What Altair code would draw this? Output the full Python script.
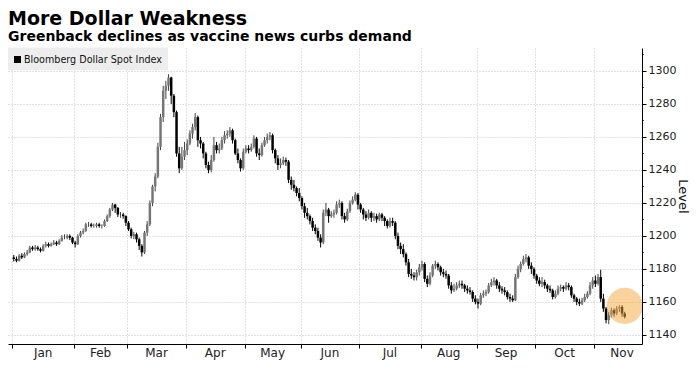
import altair as alt
import pandas as pd
import numpy as np

# ---------------- data ----------------
title = "More Dollar Weakness"
subtitle = "Greenback declines as vaccine news curbs demand"
series_name = "Bloomberg Dollar Spot Index"
month_names = ["Jan", "Feb", "Mar", "Apr", "May", "Jun", "Jul", "Aug", "Sep", "Oct", "Nov"]
y_label_values = [1140, 1160, 1180, 1200, 1220, 1240, 1260, 1280, 1300]
y_minor_values = [1150, 1170, 1190, 1210, 1230, 1250, 1270, 1290, 1310]

first_open = 1187
close = [
    1186, 1185, 1188, 1187, 1189, 1190, 1193, 1192, 1193, 1192,
    1191, 1194, 1195, 1194, 1195, 1196, 1195, 1197, 1199, 1199,
    1200, 1199, 1196, 1195, 1200, 1202, 1203, 1207, 1207, 1206,
    1206, 1207, 1206, 1206, 1209, 1212, 1216, 1219, 1217, 1213,
    1213, 1212, 1208, 1204, 1200, 1201, 1198, 1194, 1190, 1202,
    1207, 1220, 1230, 1236, 1254, 1272, 1288, 1291, 1296, 1285,
    1275, 1250, 1241, 1248, 1252, 1256, 1262, 1266, 1272, 1258,
    1256, 1250, 1243, 1240, 1246, 1255, 1252, 1253, 1258, 1261,
    1262, 1264, 1258, 1250, 1246, 1241, 1251, 1253, 1252, 1254,
    1259, 1250, 1249, 1255, 1258, 1260, 1261, 1252, 1247, 1243,
    1244, 1246, 1245, 1234, 1231, 1229, 1226, 1223, 1218, 1214,
    1212, 1209, 1205, 1203, 1199, 1196, 1214, 1216, 1212, 1213,
    1214, 1219, 1220, 1212, 1210, 1215, 1220, 1222, 1225, 1219,
    1216, 1213, 1211, 1214, 1211, 1212, 1210, 1213, 1211, 1209,
    1206, 1209, 1208, 1200, 1194, 1192, 1189, 1184, 1177, 1176,
    1175, 1178, 1181, 1183, 1174, 1171, 1176, 1182, 1183, 1181,
    1178, 1177, 1176, 1170, 1167, 1168, 1170, 1171, 1170, 1168,
    1167, 1166, 1162, 1160, 1159, 1164, 1165, 1166, 1170, 1172,
    1173, 1170, 1168, 1167, 1166, 1163, 1162, 1161, 1175, 1180,
    1183, 1186, 1187, 1182, 1180, 1176, 1173, 1171, 1172, 1170,
    1168, 1167, 1163, 1165, 1168, 1169, 1168, 1170, 1169, 1164,
    1162, 1160, 1159, 1161, 1163, 1165, 1170, 1173, 1171, 1175,
    1162, 1156, 1149, 1152, 1155, 1153, 1156, 1157, 1153, 1151,
]
high = [
    1188.5, 1187.5, 1189, 1189.5, 1190, 1191.5, 1194, 1194, 1194.5, 1194,
    1193, 1195, 1196.5, 1196, 1196, 1197.5, 1197, 1198, 1200.5, 1201,
    1201, 1201, 1199.5, 1197, 1201, 1203, 1204.5, 1208, 1208.5, 1208,
    1207.5, 1208, 1208, 1207, 1210, 1213, 1217, 1220, 1219.5, 1217.5,
    1214.5, 1214, 1212.5, 1209, 1205, 1202.5, 1202, 1199, 1195, 1203,
    1209, 1221.5, 1231, 1238, 1256.5, 1274, 1291, 1294, 1298, 1296.5,
    1286, 1276, 1254, 1254, 1257, 1258.5, 1264, 1268, 1274.5, 1273,
    1260, 1257, 1251, 1245, 1249, 1260, 1257, 1256, 1260, 1263.5,
    1264, 1266, 1265, 1259, 1253, 1247, 1253, 1255, 1255, 1256,
    1261, 1260, 1253, 1256.5, 1260, 1262, 1263, 1262, 1253, 1249,
    1247, 1248, 1247.5, 1246, 1236, 1234, 1230, 1229, 1224, 1220,
    1217, 1213, 1211, 1207, 1205, 1201, 1216, 1220, 1217, 1215,
    1216, 1221, 1222, 1221, 1214, 1216.5, 1221.5, 1224, 1226.5, 1226,
    1220, 1217, 1215, 1216, 1215, 1214, 1213.5, 1214, 1214, 1212,
    1210, 1211, 1211, 1209, 1202, 1196, 1195, 1190, 1186, 1180,
    1178, 1179.5, 1183, 1185, 1184, 1176, 1178, 1183, 1185, 1184,
    1182, 1180, 1179, 1177, 1172, 1171, 1172, 1173, 1173, 1171,
    1170, 1169, 1167, 1164, 1162, 1165.5, 1167, 1167.5, 1171.5, 1174,
    1175, 1174, 1172, 1169.5, 1169, 1167, 1165, 1164, 1177, 1182,
    1184.5, 1188, 1189, 1188, 1184, 1181, 1177, 1175, 1175, 1173.5,
    1171, 1170, 1168, 1167, 1170, 1170.5, 1170, 1172, 1171.5, 1170,
    1165, 1163, 1162, 1162.5, 1165, 1166.5, 1172, 1175, 1176, 1177,
    1179.5, 1165, 1157, 1154, 1156.5, 1156, 1157.5, 1158, 1158, 1154,
]
low = [
    1184.5, 1184, 1184.5, 1186, 1186.5, 1188, 1189.5, 1191, 1191, 1191,
    1190, 1190.5, 1193, 1193, 1193.5, 1194.5, 1194, 1194.5, 1196.5, 1198,
    1198, 1197.5, 1195, 1193, 1194.5, 1199, 1201, 1202.5, 1205.5, 1205,
    1205, 1205, 1205, 1204.5, 1205.5, 1208.5, 1211, 1215, 1214, 1211.5,
    1211, 1210.5, 1206, 1203, 1198.5, 1198, 1196, 1191.5, 1187.5, 1189,
    1200, 1206, 1218, 1227, 1235, 1252, 1269, 1283, 1288, 1280,
    1272, 1248, 1238, 1240, 1246, 1249, 1255, 1259, 1264, 1254,
    1253, 1247, 1241, 1238, 1238.5, 1245, 1250, 1250, 1252, 1256,
    1259, 1260, 1256, 1249, 1244, 1239, 1240, 1250, 1250, 1251,
    1253, 1248, 1246, 1248, 1254, 1256, 1258, 1250, 1244, 1240,
    1241, 1243, 1242.5, 1232, 1228, 1227, 1224, 1221, 1216, 1211,
    1210, 1207, 1203, 1201, 1197, 1193, 1195, 1212, 1208, 1211,
    1211, 1213, 1217, 1210, 1208, 1209, 1214, 1219, 1221, 1216,
    1214, 1210, 1209, 1210, 1208.5, 1209, 1208, 1209, 1209, 1206,
    1204.5, 1205, 1206, 1198, 1192, 1189, 1187, 1182, 1175, 1174,
    1173, 1173, 1176, 1179, 1172, 1169, 1170, 1175, 1180, 1179,
    1176, 1175, 1174, 1168, 1165, 1166, 1167, 1168.5, 1168, 1166,
    1165, 1164.5, 1160, 1158.5, 1156, 1158, 1162.5, 1163.5, 1165, 1169,
    1170, 1168, 1166, 1165, 1164, 1161.5, 1160, 1160, 1160.5, 1174,
    1178, 1182, 1184, 1180, 1177, 1174, 1171, 1169.5, 1169, 1168,
    1166, 1165.5, 1161.5, 1162, 1164, 1166.5, 1166, 1167, 1167, 1162.5,
    1160, 1158, 1157.5, 1158, 1160, 1162, 1164, 1168, 1169, 1170,
    1160, 1154, 1147, 1146.5, 1150.5, 1151, 1152, 1154, 1151, 1150,
]
highlight_day = [229.0]
highlight_level = [1157.6]

# ---------------- tables ----------------
n = len(close)
dates = pd.bdate_range("2020-01-01", periods=n)
opens = [first_open] + close[:-1]
df = pd.DataFrame({"i": np.arange(n), "date": dates, "open": opens,
                   "high": high, "low": low, "close": close})
df["dir"] = np.where(df["close"] >= df["open"], "up", "down")

year_days = pd.bdate_range("2020-01-01", "2020-12-31")
month_start = [int(np.argmax(year_days.month == m)) for m in range(1, 13)]
tick_pos = [s - 0.5 for s in month_start[:11]]
label_pos = [(month_start[k] + month_start[k + 1]) / 2 - 0.5 for k in range(11)]
months_df = pd.DataFrame({"m": month_names, "pos": label_pos})
minor_df = pd.DataFrame({"v": y_minor_values})

W, H = 634, 296
FONT = "DejaVu Sans"
xscale = alt.Scale(domain=[-0.3, 233.6], nice=False, zero=False)
yscale = alt.Scale(domain=[1134.5, 1313.9], nice=False, zero=False)
grid_col = "#c4c4c4"

x_axis = alt.Axis(values=tick_pos, labels=False, title=None, tickSize=4,
                  tickColor="black", domainColor="black", domainWidth=1,
                  grid=True, gridColor=grid_col, gridDash=[1, 2], gridWidth=1)
y_axis = alt.Axis(orient="right", values=y_label_values, format="d",
                  labelOverlap=False, tickSize=4,
                  grid=True, gridColor=grid_col, gridDash=[1, 2], gridWidth=1,
                  tickColor="black", domainColor="black", domainWidth=1,
                  labelFont=FONT, labelFontSize=11, labelColor="#222222",
                  labelPadding=2,
                  title="Level", titleFont=FONT, titleFontSize=13,
                  titleFontWeight="normal", titleColor="#111111",
                  titlePadding=0)

base = alt.Chart(df)

wicks = base.mark_rule(strokeWidth=1).encode(
    x=alt.X("i:Q", scale=xscale, axis=x_axis),
    y=alt.Y("low:Q", scale=yscale, axis=y_axis),
    y2="high:Q",
    color=alt.Color("dir:N", scale=alt.Scale(domain=["up", "down"], range=["#444444", "#000000"]),
                    legend=None),
)

bodies = base.mark_bar(size=2.5).encode(
    x=alt.X("i:Q", scale=xscale, axis=x_axis),
    y=alt.Y("open:Q", scale=yscale, axis=y_axis),
    y2="close:Q",
    color=alt.Color("dir:N", scale=alt.Scale(domain=["up", "down"], range=["#767676", "#000000"]),
                    legend=None),
)

minor_ticks = alt.Chart(minor_df).mark_tick(
    orient="horizontal", size=2, thickness=1, color="black", xOffset=1
).encode(x=alt.value(W), y=alt.Y("v:Q", scale=yscale, axis=y_axis))

circle = alt.Chart(pd.DataFrame({"i": highlight_day, "v": highlight_level})).mark_circle(
    size=1300, color="#f3a53a", opacity=0.5, clip=True
).encode(x=alt.X("i:Q", scale=xscale, axis=x_axis), y=alt.Y("v:Q", scale=yscale, axis=y_axis))

one = pd.DataFrame({"t": [series_name]})
legend_bg = alt.Chart(one).mark_rect(color="#ededed").encode(
    x=alt.value(0), x2=alt.value(160), y=alt.value(-0.5), y2=alt.value(22))
legend_sq = alt.Chart(one).mark_rect(color="black").encode(
    x=alt.value(6), x2=alt.value(13), y=alt.value(8), y2=alt.value(15))
legend_txt = alt.Chart(one).mark_text(align="left", baseline="alphabetic", font=FONT,
                                      fontSize=9.6, color="#111111").encode(
    x=alt.value(16), y=alt.value(15), text="t:N")

title_txt = alt.Chart(pd.DataFrame({"t": [title]})).mark_text(
    align="left", baseline="alphabetic", font=FONT, fontSize=19, fontWeight="bold",
    color="black").encode(x=alt.value(0), y=alt.value(-23), text="t:N")
subtitle_txt = alt.Chart(pd.DataFrame({"t": [subtitle]})).mark_text(
    align="left", baseline="alphabetic", font=FONT, fontSize=14, fontWeight="bold",
    color="black").encode(x=alt.value(0), y=alt.value(-7), text="t:N")

month_txt = alt.Chart(months_df).mark_text(
    align="center", baseline="alphabetic", font=FONT, fontSize=12, color="#222222"
).encode(x=alt.X("pos:Q", scale=xscale, axis=x_axis), y=alt.value(H + 13), text="m:N")

chart = alt.layer(
    wicks, bodies, minor_ticks, circle, legend_bg, legend_sq, legend_txt,
    title_txt, subtitle_txt, month_txt
).resolve_scale(color="independent").properties(
    width=W, height=H,
    autosize=alt.AutoSizeParams(type="none"),
    padding={"left": 0, "top": 40, "right": 50, "bottom": 16},
    background="white",
).configure_view(stroke=None).configure_axis(labelOverlap=False)

chart.save("out.html", embed_options={"renderer": "svg", "actions": False})
